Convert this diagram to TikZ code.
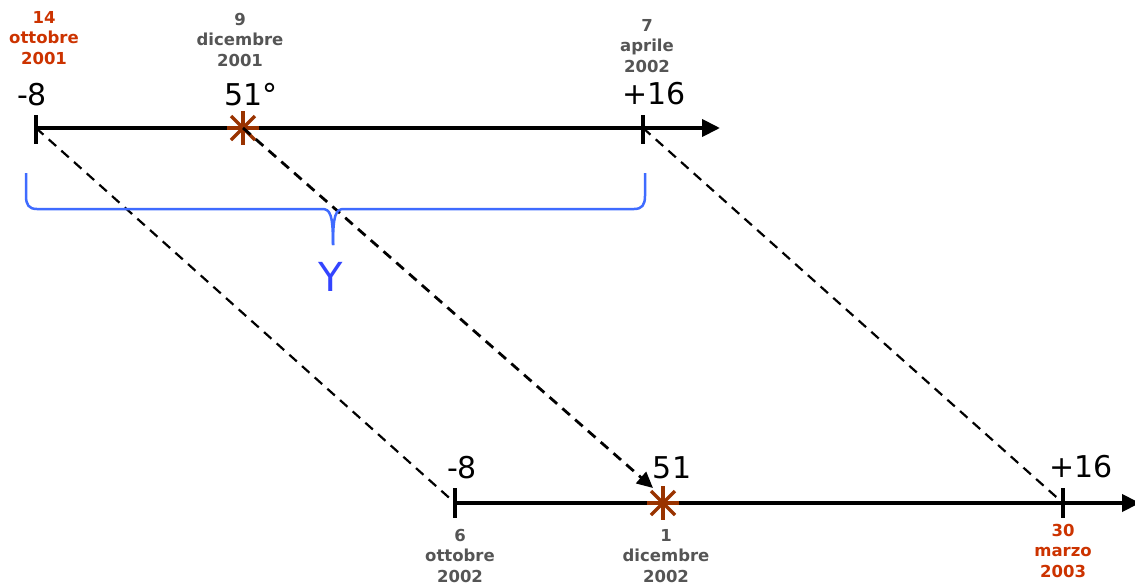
\documentclass[tikz,border=0pt]{standalone}
\usepackage{fontspec}
\setmainfont{DejaVu Sans}
\usetikzlibrary{arrows.meta,calc}
\definecolor{datered}{HTML}{CC3300}
\definecolor{dategrey}{HTML}{555555}
\definecolor{starcol}{HTML}{993300}
\definecolor{bracecol}{HTML}{3F6BFF}
\definecolor{ycol}{HTML}{3344FF}
\tikzset{
  axisline/.style={line width=4pt, -{Triangle[length=18pt,width=17pt]}},
  tickmark/.style={line width=3.5pt},
  dashconn/.style={line width=2.2pt, dash pattern=on 10pt off 7pt},
  numlabel/.style={anchor=base, inner sep=0pt, font=\fontsize{30}{30}\selectfont},
  datelabel/.style={anchor=base, inner sep=0pt, align=center, font=\bfseries\fontsize{16.5}{20.5}\selectfont},
  starline/.style={line width=3.5pt, starcol},
}
\newcommand{\mystar}[1]{%
  \draw[starline] ($(#1)+(-16,0)$) -- ($(#1)+(16,0)$);
  \draw[starline] ($(#1)+(0,-17)$) -- ($(#1)+(0,17)$);
  \draw[starline] ($(#1)+(-12,-12)$) -- ($(#1)+(12,12)$);
  \draw[starline] ($(#1)+(-12,12)$) -- ($(#1)+(12,-12)$);
}
\begin{document}
\begin{tikzpicture}[x=1pt,y=-1pt]
\useasboundingbox (0,0) rectangle (1135,587);
% top axis
\coordinate (tA) at (36,128);
\coordinate (tS) at (243,128);
\coordinate (tB) at (643,128);
\coordinate (tEnd) at (720,128);
\draw[axisline] (tA) -- (tEnd);
\draw[tickmark] (36,115) -- (36,144);
\draw[tickmark] (643,115) -- (643,144);
\mystar{tS}
% bottom axis
\coordinate (bA) at (455,503);
\coordinate (bS) at (663,503);
\coordinate (bB) at (1063,503);
\coordinate (bEnd) at (1140,503);
\draw[axisline] (bA) -- (bEnd);
\draw[tickmark] (455,488) -- (455,518);
\draw[tickmark] (1063,488) -- (1063,518);
\mystar{bS}
% dashed connectors
\coordinate (mTip) at (653,488);
\draw[dashconn] (tA) -- (bA);
\draw[dashconn] (tB) -- (bB);
\draw[dashconn, line width=2.8pt, -{Triangle[length=16pt,width=15pt]}] (tS) -- (mTip);
% number labels
\node[numlabel] (n1) at (32,105) {-8};
\node[numlabel] (n2) at (251,105) {51°};
\node[numlabel] (n3) at (654,104) {+16};
\node[numlabel] (n4) at (462,478) {-8};
\node[numlabel] (n5) at (672,478) {51};
\node[numlabel] (n6) at (1081,477) {+16};
% date labels (anchor base = baseline of last line)
\node[datelabel, text=datered] (d1) at (44,64) {14\\ottobre\\2001};
\node[datelabel, text=dategrey] (d2) at (240,66) {9\\dicembre\\2001};
\node[datelabel, text=dategrey] (d3) at (647,72) {7\\aprile\\2002};
\node[datelabel, text=dategrey] (d4) at (460,582) {6\\ottobre\\2002};
\node[datelabel, text=dategrey] (d5) at (666,582) {1\\dicembre\\2002};
\node[datelabel, text=datered] (d6) at (1063,577) {30\\marzo\\2003};
% brace
\draw[bracecol, line width=2.5pt, line join=round]
  (26,173) -- (26,196) .. controls (26,205) and (29,209) .. (37,209)
  -- (322,209) .. controls (330,209) and (333,214) .. (333,245);
\draw[bracecol, line width=2.5pt, line join=round]
  (645,173) -- (645,196) .. controls (645,205) and (642,209) .. (634,209)
  -- (344,209) .. controls (336,209) and (333,214) .. (333,245);
\node[anchor=base, inner sep=0pt, text=ycol, font=\fontsize{40}{40}\selectfont] (Y) at (331,291) {Y};
\end{tikzpicture}
\end{document}
